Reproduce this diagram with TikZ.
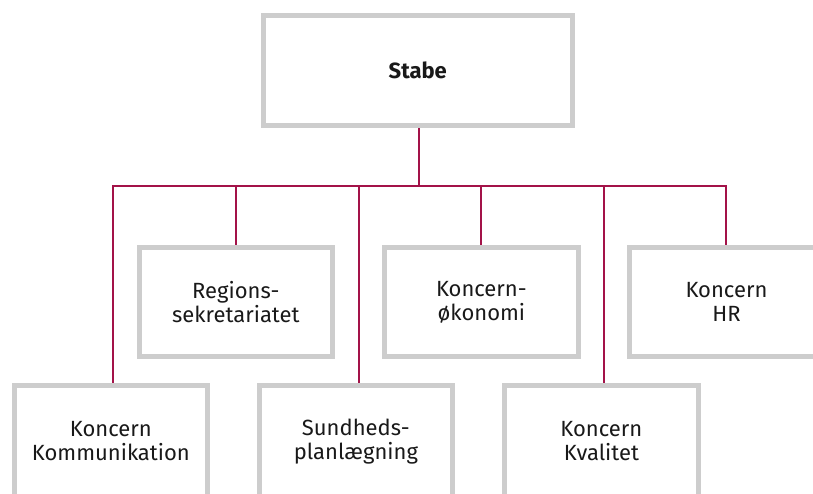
\documentclass[tikz,border=0pt]{standalone}
\usepackage{fontspec}
\setmainfont{Fira Sans}
\definecolor{boxgray}{RGB}{205,205,205}
\definecolor{linered}{RGB}{163,18,72}
\definecolor{txt}{RGB}{25,25,25}
\begin{document}
\begin{tikzpicture}[x=1pt,y=-1pt,
  unitbox/.style={draw=boxgray,line width=5pt,minimum width=193.3pt,minimum height=109pt,
    inner sep=0pt,align=center,text=txt,font=\fontsize{22}{24}\selectfont},
  topbox/.style={unitbox,minimum width=309.5pt,minimum height=110pt,font=\fontsize{22}{24}\selectfont\bfseries},
  lowbox/.style={unitbox,minimum height=110.6pt},
  conn/.style={draw=linered,line width=2pt}]
\useasboundingbox (0,0) rectangle (813,493);
\clip (0,0) rectangle (813,493);
\fill[white] (0,0) rectangle (813,493);
% top
\node[topbox] (stabe) at (417.75,70.5) {Stabe};
% middle row
\node[unitbox] (reg) at (235.85,302) {Regions-\\sekretariatet};
\node[unitbox] (oko) at (481.35,302) {Koncern-\\økonomi};
\node[unitbox] (hr) at (726.45,302) {Koncern\\HR};
% bottom row
\node[lowbox] (kom) at (110.85,441.1) {Koncern\\Kommunikation};
\node[lowbox] (sun) at (355.85,441.1) {Sundheds-\\planlægning};
\node[lowbox] (kva) at (601.35,441.1) {Koncern\\Kvalitet};
% bus
\coordinate (bus) at (419,186);
\coordinate (busL) at (113,186);
\coordinate (busR) at (726.45,186);
\draw[conn] (stabe.south -| bus) -- (bus);
\draw[conn,line cap=rect] (busL) -- (busR);
\draw[conn] (busL) -- (busL |- kom.north);
\draw[conn] (reg.north |- bus) -- (reg.north);
\draw[conn] (359,186) -- (359,0 |- sun.north);
\draw[conn] (oko.north |- bus) -- (oko.north);
\draw[conn] (604,186) -- (604,0 |- kva.north);
\draw[conn] (hr.north |- bus) -- (hr.north);
\end{tikzpicture}
\end{document}
